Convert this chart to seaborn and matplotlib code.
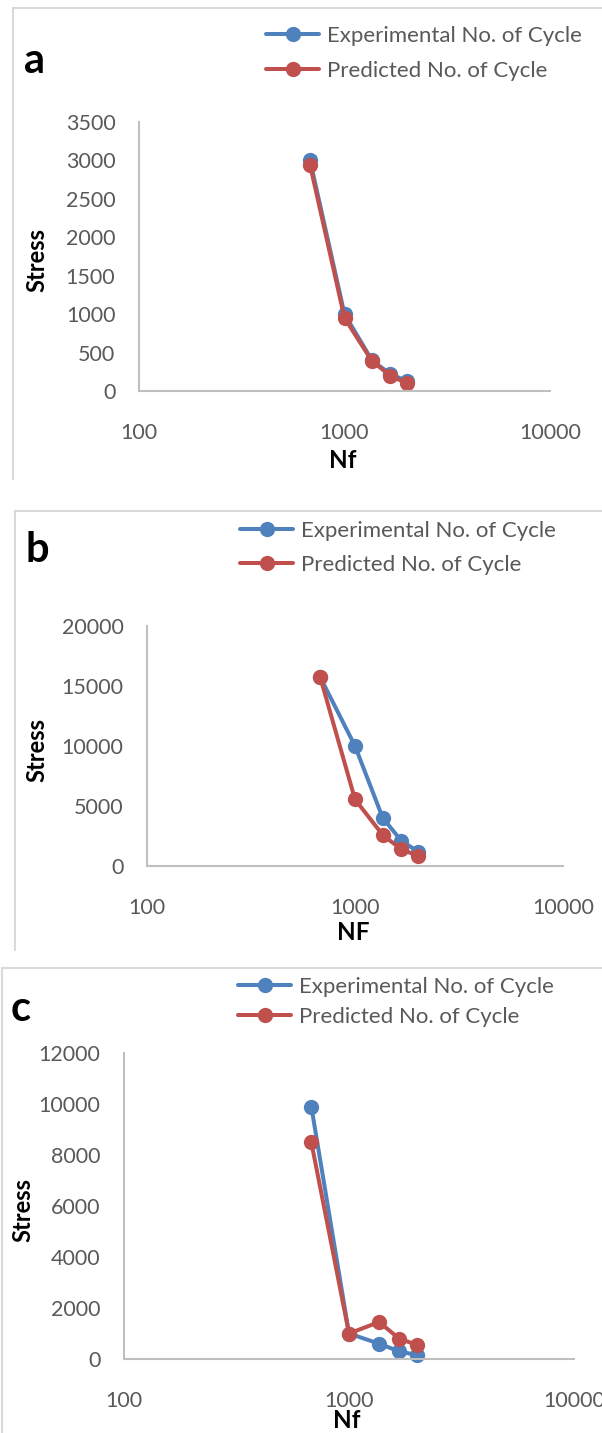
import numpy as np
import pandas as pd
import matplotlib
matplotlib.use("Agg")
import matplotlib.pyplot as plt
from matplotlib.lines import Line2D
from matplotlib.ticker import FixedLocator, FixedFormatter, NullLocator
import seaborn as sns

# ---------------- data ----------------
cycles = [680, 1000, 1360, 1670, 2010]
series_names = ["Experimental No. of Cycle", "Predicted No. of Cycle"]

a_experimental = [3000, 1000, 400, 220, 130]
a_predicted = [2940, 950, 390, 200, 100]

b_experimental = [15750, 10000, 4000, 2100, 1200]
b_predicted = [15750, 5550, 2580, 1390, 850]

c_experimental = [9900, 1000, 600, 300, 150]
c_predicted = [8500, 1000, 1450, 800, 550]

panel_letters = ["a", "b", "c"]
x_ticks = [100, 1000, 10000]
x_tick_labels = ["100", "1000", "10000"]
a_yticks = [0, 500, 1000, 1500, 2000, 2500, 3000, 3500]
b_yticks = [0, 5000, 10000, 15000, 20000]
c_yticks = [0, 2000, 4000, 6000, 8000, 10000, 12000]
x_labels = ["Nf", "NF", "Nf"]

# ---------------- style ----------------
sns.set_style("white")
plt.rcParams["font.family"] = ["Lato", "DejaVu Sans"]

BLUE = "#4F81BD"
RED = "#C0504D"
GRAY_TXT = "#595959"
AXIS_GRAY = "#BFBFBF"
FRAME_GRAY = "#D9D9D9"

W, H = 602, 1433
fig = plt.figure(figsize=(W / 100, H / 100), dpi=100)
fig.patch.set_facecolor("white")


def fx(px):
    return px / W


def fy(py):
    return 1 - py / H


LEG_FS = 16
TICK_FS = 15.5
LW = 2.9
MS = 11

panels = [
    dict(exp=a_experimental, pred=a_predicted, yticks=a_yticks,
         box=(139, 550, 122, 391), frame=(13, 8, 479),
         letter_xy=(24, 73), legend_xy=(265, 35, 70), xlab_y=460, ylab_x=37),
    dict(exp=b_experimental, pred=b_predicted, yticks=b_yticks,
         box=(147, 563, 626, 866), frame=(15, 511, 950),
         letter_xy=(25, 562), legend_xy=(239, 530, 564), xlab_y=932, ylab_x=37),
    dict(exp=c_experimental, pred=c_predicted, yticks=c_yticks,
         box=(124, 574, 1053, 1359), frame=(2, 968, 1433),
         letter_xy=(11, 1021), legend_xy=(237, 986, 1016), xlab_y=1421, ylab_x=23),
]

for i, p in enumerate(panels):
    l, r, t, b = p["box"]
    ax = fig.add_axes([fx(l), fy(b), fx(r) - fx(l), fy(t) - fy(b)])
    df = pd.DataFrame({
        "Nf": cycles * 2,
        "Stress": list(p["exp"]) + list(p["pred"]),
        "Series": [series_names[0]] * len(cycles) + [series_names[1]] * len(cycles),
    })
    sns.lineplot(data=df, x="Nf", y="Stress", hue="Series",
                 palette=[BLUE, RED], marker="o", markersize=MS,
                 markeredgewidth=0, linewidth=LW, sort=False,
                 legend=False, ax=ax, clip_on=False)
    ax.set_xscale("log")
    ax.set_xlim(100, 10000)
    ax.set_ylim(p["yticks"][0], p["yticks"][-1])
    ax.xaxis.set_major_locator(FixedLocator(x_ticks))
    ax.xaxis.set_major_formatter(FixedFormatter(x_tick_labels))
    ax.xaxis.set_minor_locator(NullLocator())
    ax.set_yticks(p["yticks"])
    ax.set_yticklabels([str(v) for v in p["yticks"]])
    ax.tick_params(axis="both", length=0, labelsize=TICK_FS, labelcolor=GRAY_TXT)
    ax.tick_params(axis="y", pad=17)
    ax.tick_params(axis="x", pad=23)
    for s in ["top", "right"]:
        ax.spines[s].set_visible(False)
    for s in ["left", "bottom"]:
        ax.spines[s].set_color(AXIS_GRAY)
        ax.spines[s].set_linewidth(1.5)
    ax.set_facecolor("none")
    ax.set_xlabel("")
    ax.set_ylabel("")

    # axis titles
    fig.text(fx((l + r) / 2 - 2), fy(p["xlab_y"]), x_labels[i], ha="center", va="center",
             fontsize=17.5, fontweight="bold", color="black")
    fig.text(fx(p["ylab_x"]), fy((t + b) / 2 + 4), "Stress", ha="center", va="center",
             rotation=90, fontsize=17, fontweight="bold", color="black")

    # panel letter
    fig.text(fx(p["letter_xy"][0]), fy(p["letter_xy"][1]), panel_letters[i],
             ha="left", va="baseline", fontsize=30, fontweight="bold", color="black")

    # legend
    lx, ry1, ry2 = p["legend_xy"]
    fs_px = LEG_FS * 100 / 72
    handles = [Line2D([0], [0], color=c, lw=LW, marker="o", markersize=MS,
                      markeredgewidth=0) for c in (BLUE, RED)]
    leg = fig.legend(handles, series_names, loc="center left",
                     bbox_to_anchor=(fx(lx + 1), fy((ry1 + ry2) / 2 + 1)),
                     frameon=False, fontsize=LEG_FS, handlelength=2.4,
                     handletextpad=0.33,
                     labelspacing=((ry2 - ry1) - 0.89 * fs_px) / fs_px,
                     borderpad=0, borderaxespad=0)
    for txt in leg.get_texts():
        txt.set_color(GRAY_TXT)

    # panel frame (left and top edges)
    fxl, ftop, fbot = p["frame"]
    fig.add_artist(Line2D([fx(fxl), fx(fxl)], [fy(ftop), fy(fbot)],
                          color=FRAME_GRAY, lw=1.5, transform=fig.transFigure))
    fig.add_artist(Line2D([fx(fxl), 1.0], [fy(ftop), fy(ftop)],
                          color=FRAME_GRAY, lw=1.5, transform=fig.transFigure))

fig.savefig("out.png", dpi=100, facecolor="white")
